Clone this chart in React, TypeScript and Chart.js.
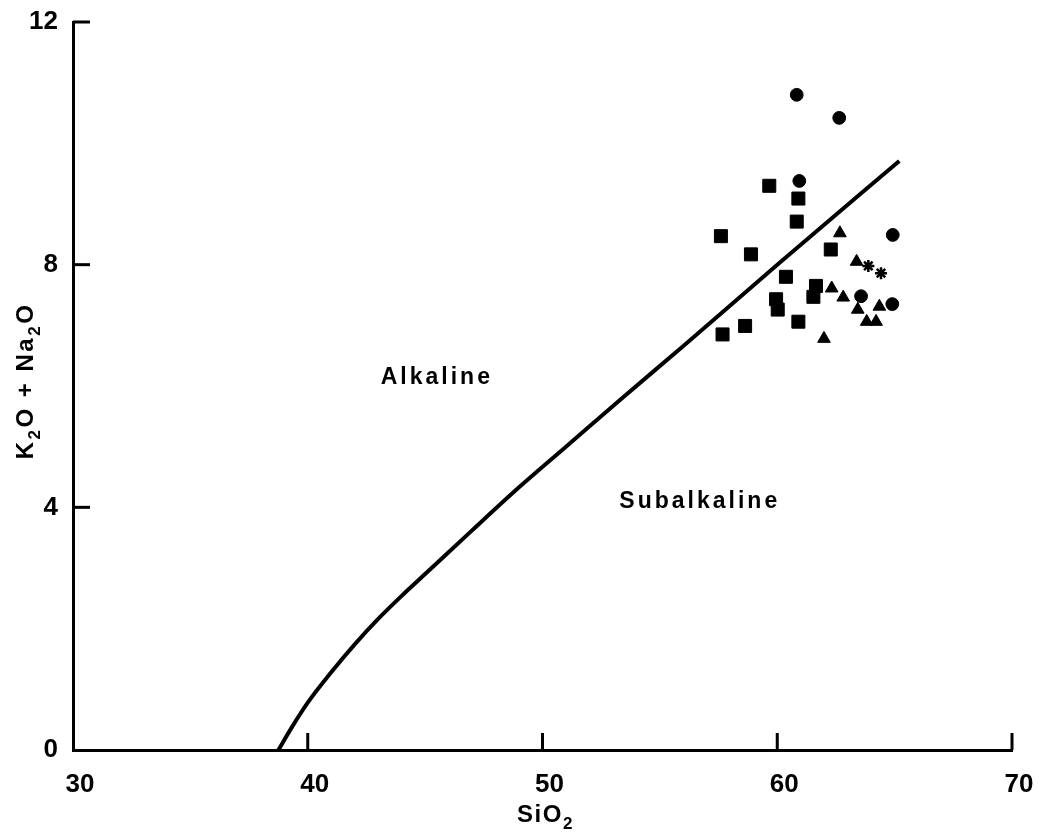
import React, { useEffect, useRef } from "react";
import { Chart, registerables } from "chart.js";

Chart.register(...registerables);

// Axis ticks
const xTicks = [30, 40, 50, 60, 70];
const yTicks = [0, 4, 8, 12];

// Alkaline / subalkaline boundary curve
const boundaryX = [38.75, 39.3, 40.0, 41.0, 42.0, 43.0, 44.0, 45.0, 47.0, 49.0, 51.0, 53.3, 56.0, 60.1, 65.2];
const boundaryY = [0, 0.36, 0.78, 1.28, 1.74, 2.16, 2.54, 2.9, 3.62, 4.33, 5.0, 5.77, 6.66, 8.03, 9.71];

// Squares
const squareX = [59.66, 60.9, 60.83, 57.6, 62.28, 58.88, 60.37, 61.65, 61.54, 59.95, 60.02, 60.9, 58.63, 57.67];
const squareY = [9.3, 9.09, 8.71, 8.47, 8.25, 8.17, 7.8, 7.65, 7.47, 7.43, 7.26, 7.06, 6.99, 6.85];

// Circles
const circleX = [60.83, 62.64, 60.94, 64.92, 63.57, 64.9];
const circleY = [10.8, 10.42, 9.38, 8.49, 7.48, 7.35];

// Triangles
const triangleX = [62.67, 63.38, 62.32, 62.81, 63.43, 64.35, 63.81, 64.21, 61.99];
const triangleY = [8.52, 8.05, 7.61, 7.46, 7.26, 7.31, 7.06, 7.06, 6.78];

// Stars
const starX = [63.88, 64.42];
const starY = [7.98, 7.86];

// Field labels
const fieldLabels = ["Alkaline", "Subalkaline"];
const fieldLabelX = [45.5, 56.7];
const fieldLabelY = [6.13, 4.09];

// Axis titles as [text, isSubscript] runs
const xTitleRuns: [string, boolean][] = [["SiO", false], ["2", true]];
const yTitleRuns: [string, boolean][] = [["K", false], ["2", true], ["O + Na", false], ["2", true], ["O", false]];

const zip = (xs: number[], ys: number[]) => xs.map((x, i) => ({ x, y: ys[i] }));

const FONT = "'Liberation Sans', Arial, Helvetica, sans-serif";

function drawRuns(ctx: CanvasRenderingContext2D, runs: [string, boolean][], cx: number, baseline: number, size: number, spacing: number) {
  const subSize = Math.round(size * 0.72);
  const widths = runs.map(([t, sub]) => {
    ctx.font = `bold ${sub ? subSize : size}px ${FONT}`;
    (ctx as any).letterSpacing = `${spacing}px`;
    return ctx.measureText(t).width;
  });
  const total = widths.reduce((a, b) => a + b, 0);
  let xPos = cx - total / 2;
  ctx.textAlign = "left";
  ctx.textBaseline = "alphabetic";
  runs.forEach(([t, sub], i) => {
    ctx.font = `bold ${sub ? subSize : size}px ${FONT}`;
    (ctx as any).letterSpacing = `${spacing}px`;
    ctx.fillText(t, xPos, baseline + (sub ? size * 0.28 : 0));
    xPos += widths[i];
  });
}

const decorPlugin = {
  id: "decor",
  afterDraw(chart: any) {
    const { ctx, scales } = chart;
    const x = scales.x;
    const y = scales.y;
    ctx.save();
    ctx.strokeStyle = "#000";
    ctx.lineWidth = 3;
    ctx.lineCap = "butt";
    xTicks.slice(1).forEach((v) => {
      const px = x.getPixelForValue(v);
      ctx.beginPath();
      ctx.moveTo(px, y.bottom);
      ctx.lineTo(px, y.bottom - 17);
      ctx.stroke();
    });
    yTicks.slice(1).forEach((v) => {
      const py = y.getPixelForValue(v);
      ctx.beginPath();
      ctx.moveTo(x.left, py);
      ctx.lineTo(x.left + 17, py);
      ctx.stroke();
    });
    ctx.fillStyle = "#000";
    ctx.font = `bold 23px ${FONT}`;
    (ctx as any).letterSpacing = "3px";
    ctx.textAlign = "center";
    ctx.textBaseline = "middle";
    fieldLabels.forEach((t, i) => {
      ctx.fillText(t, x.getPixelForValue(fieldLabelX[i]), y.getPixelForValue(fieldLabelY[i]));
    });

    // X axis title
    drawRuns(ctx, xTitleRuns, (x.left + x.right) / 2 + 3, 822, 24, 1.5);

    // Y axis title (rotated)
    ctx.save();
    ctx.translate(33, (y.top + y.bottom) / 2 - 5);
    ctx.rotate(-Math.PI / 2);
    drawRuns(ctx, yTitleRuns, 0, 0, 24, 2.5);
    ctx.restore();

    ctx.restore();
  },
};

export default function App() {
  const ref = useRef<HTMLCanvasElement | null>(null);

  useEffect(() => {
    if (!ref.current) return;
    const marker = (label: string, data: any[], style: string, radius: number, extra: any = {}) => ({
      type: "scatter",
      label,
      data,
      pointStyle: style,
      pointRadius: radius,
      pointHoverRadius: radius,
      backgroundColor: "#000",
      borderColor: "#000",
      pointBorderWidth: 1,
      ...extra,
    });
    const chart = new Chart(ref.current, {
      type: "scatter",
      data: {
        datasets: [
          {
            type: "line",
            label: "Boundary",
            data: zip(boundaryX, boundaryY),
            borderColor: "#000",
            borderWidth: 4,
            pointRadius: 0,
            cubicInterpolationMode: "monotone",
            fill: false,
          } as any,
          marker("Squares", zip(squareX, squareY), "rect", 9.2),
          marker("Circles", zip(circleX, circleY), "circle", 6.4),
          marker("Triangles", zip(triangleX, triangleY), "triangle", 7.3),
          marker("Stars", zip(starX, starY), "star", 6, { pointBorderWidth: 2.5 }),
        ],
      },
      options: {
        responsive: false,
        animation: false,
        layout: { padding: { top: 22, right: 30, left: 0, bottom: 0 } },
        plugins: { legend: { display: false }, tooltip: { enabled: false } },
        scales: {
          x: {
            type: "linear",
            min: 30,
            max: 70,
            afterFit: (s: any) => {
              s.height = 82;
              s.paddingLeft = 0;
              s.paddingRight = 0;
            },
            ticks: {
              stepSize: 10,
              color: "#000",
              padding: 19,
              labelOffset: 7,
              font: { family: FONT, size: 26, weight: "bold" },
            },
            grid: { display: false, drawTicks: false },
            border: { display: true, color: "#000", width: 3 },
            title: { display: false, text: "SiO₂" },
          },
          y: {
            type: "linear",
            min: 0,
            max: 12,
            afterFit: (s: any) => {
              s.width = 73;
              s.paddingTop = 0;
              s.paddingBottom = 0;
            },
            ticks: {
              stepSize: 4,
              color: "#000",
              padding: 15,
              font: { family: FONT, size: 26, weight: "bold" },
            },
            grid: { display: false, drawTicks: false },
            border: { display: true, color: "#000", width: 3 },
            title: { display: false, text: "K₂O + Na₂O" },
          },
        },
      } as any,
      plugins: [decorPlugin],
    } as any);
    return () => chart.destroy();
  }, []);

  return (
    <div style={{ position: "fixed", left: 0, top: 0, width: 1042, height: 832, background: "#fff" }}>
      <canvas ref={ref} width={1042} height={832} style={{ display: "block" }} />
    </div>
  );
}
